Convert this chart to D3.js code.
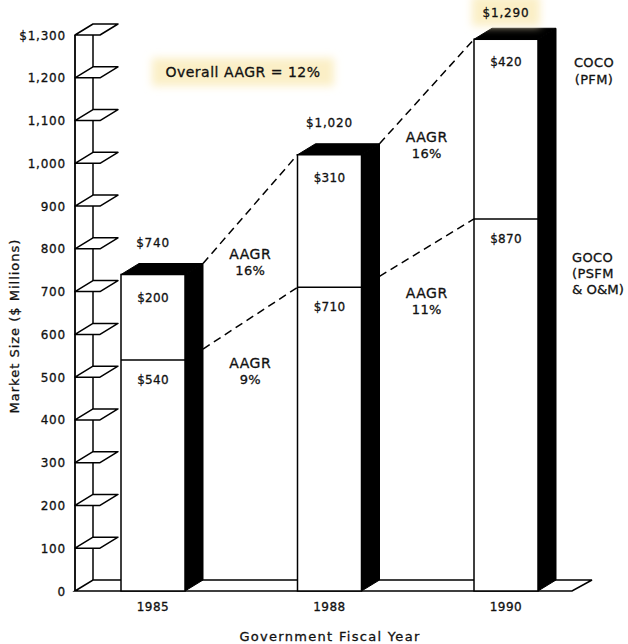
<!DOCTYPE html>
<html>
<head>
<meta charset="utf-8">
<script src="https://cdn.jsdelivr.net/npm/d3@7"></script>
<style>
  html, body { margin: 0; padding: 0; background: #fff; }
  svg { display: block; }
  text { font-family: "DejaVu Sans", sans-serif; fill: #111; stroke: #111; stroke-width: 0.3; }
</style>
</head>
<body>
<svg id="chart" width="628" height="644"></svg>
<script>
// Fiscal years and market segments ($ millions)
const years = ["1985", "1988", "1990"];
const gocoValues = [540, 710, 870];   // GOCO (PSFM & O&M), lower segment
const cocoValues = [200, 310, 420];   // COCO (PFM), upper segment
const totalLabels = ["$740", "$1,020", "$1,290"];
const gocoLabels = ["$540", "$710", "$870"];
const cocoLabels = ["$200", "$310", "$420"];
const cocoGrowth = ["16%", "16%"];    // AAGR between consecutive years
const gocoGrowth = ["9%", "11%"];
const overallGrowth = "Overall AAGR = 12%";
const tickValues = [0, 100, 200, 300, 400, 500, 600, 700, 800, 900, 1000, 1100, 1200, 1300];
const tickLabels = ["0", "100", "200", "300", "400", "500", "600", "700", "800", "900", "1,000", "1,100", "1,200", "$1,300"];

const svg = d3.select("#chart");

// 3-D depth offset used for bars, shelves and floor
const DX = 18, DY = -11;
const axisX = 75;
const barW = 64;

const y = d3.scaleLinear().domain([0, 1300]).range([591, 35]);
const x = d3.scalePoint().domain(years).range([153, 506]);

const defs = svg.append("defs");
defs.append("filter").attr("id", "glow")
  .attr("x", "-30%").attr("y", "-60%").attr("width", "160%").attr("height", "220%")
  .append("feGaussianBlur").attr("stdDeviation", 4);

const line = d3.line();

// floor
const y0 = y(0);
svg.append("path")
  .attr("d", line([[axisX, y0], [axisX + DX, y0 + DY], [592, y0 + DY], [572, y0]]) + "Z")
  .attr("fill", "#fff").attr("stroke", "#000").attr("stroke-width", 1.5);

// back post of the axis
svg.append("line")
  .attr("x1", axisX + DX).attr("x2", axisX + DX)
  .attr("y1", y(1300) + DY).attr("y2", y0 + DY)
  .attr("stroke", "#000").attr("stroke-width", 1.5);

// shelves at each tick
const shelfW = 25;
svg.append("g").selectAll("path")
  .data(tickValues.filter(v => v > 0))
  .join("path")
  .attr("d", v => line([[axisX, y(v)], [axisX + shelfW, y(v)], [axisX + shelfW + DX, y(v) + DY], [axisX + DX, y(v) + DY]]) + "Z")
  .attr("fill", "#fff").attr("stroke", "#000").attr("stroke-width", 1.5)
  .attr("stroke-linejoin", "round");

// front axis line
svg.append("line")
  .attr("x1", axisX).attr("x2", axisX)
  .attr("y1", y(1300)).attr("y2", y0)
  .attr("stroke", "#000").attr("stroke-width", 1.8);

// tick labels
svg.append("g").selectAll("text")
  .data(tickValues)
  .join("text")
  .attr("x", 66).attr("y", v => y(v) + 4.5)
  .attr("text-anchor", "end")
  .attr("font-size", 12).attr("letter-spacing", 0.8)
  .text((v, i) => tickLabels[i]);

// bars
const bars = years.map((yr, i) => ({
  year: yr,
  x0: x(yr) - barW / 2,
  goco: gocoValues[i],
  total: gocoValues[i] + cocoValues[i]
}));

const gBars = svg.append("g");
bars.forEach(b => {
  const xl = b.x0, xr = b.x0 + barW;
  const yt = y(b.total), ys = y(b.goco);
  // side face
  gBars.append("path")
    .attr("d", line([[xr, yt], [xr + DX, yt + DY], [xr + DX, y0 + DY], [xr, y0]]) + "Z")
    .attr("fill", "#000").attr("stroke", "#000").attr("stroke-width", 1);
  // top face
  gBars.append("path")
    .attr("d", line([[xl, yt], [xl + DX, yt + DY], [xr + DX, yt + DY], [xr, yt]]) + "Z")
    .attr("fill", "#000").attr("stroke", "#000").attr("stroke-width", 1);
  // front face
  gBars.append("rect")
    .attr("x", xl).attr("y", yt).attr("width", barW).attr("height", y0 - yt)
    .attr("fill", "#fff").attr("stroke", "#000").attr("stroke-width", 1.5);
  // segment boundary
  gBars.append("line")
    .attr("x1", xl).attr("x2", xr).attr("y1", ys).attr("y2", ys)
    .attr("stroke", "#000").attr("stroke-width", 1.5);
});

// dashed growth lines and AAGR labels
const gLines = svg.append("g");
for (let i = 0; i < bars.length - 1; i++) {
  const a = bars[i], b = bars[i + 1];
  const pairs = [
    { p0: [a.x0 + barW + DX, y(a.total) + DY], p1: [b.x0, y(b.total)], label: cocoGrowth[i] },
    { p0: [a.x0 + barW + DX, y(a.goco) + DY], p1: [b.x0, y(b.goco)], label: gocoGrowth[i] }
  ];
  pairs.forEach(p => {
    gLines.append("path")
      .attr("d", line([p.p0, p.p1]))
      .attr("fill", "none").attr("stroke", "#000").attr("stroke-width", 1.5)
      .attr("stroke-dasharray", "8,5");
    const mx = (p.p0[0] + p.p1[0]) / 2;
    const my = (p.p0[1] + p.p1[1]) / 2;
    gLines.append("text")
      .attr("x", mx).attr("y", my + 50)
      .attr("text-anchor", "middle").attr("font-size", 14).attr("letter-spacing", 0.5)
      .text("AAGR");
    gLines.append("text")
      .attr("x", mx).attr("y", my + 66)
      .attr("text-anchor", "middle").attr("font-size", 13).attr("letter-spacing", 0.3)
      .text(p.label);
  });
}

// value labels
const gLabels = svg.append("g");
bars.forEach((b, i) => {
  const cx = x(b.year);
  if (i === bars.length - 1) {
    gLabels.append("rect")
      .attr("x", cx - 34).attr("y", -4).attr("width", 68).attr("height", 30)
      .attr("fill", "#fbefc6").attr("filter", "url(#glow)");
  }
  gLabels.append("text")
    .attr("x", cx).attr("y", Math.max(17, y(b.total) - 28))
    .attr("text-anchor", "middle").attr("font-size", 12).attr("letter-spacing", 0.8)
    .text(totalLabels[i]);
  gLabels.append("text")
    .attr("x", cx).attr("y", y(b.total) + 27)
    .attr("text-anchor", "middle").attr("font-size", 12).attr("letter-spacing", 0.3)
    .text(cocoLabels[i]);
  gLabels.append("text")
    .attr("x", cx).attr("y", y(b.goco) + 24)
    .attr("text-anchor", "middle").attr("font-size", 12).attr("letter-spacing", 0.3)
    .text(gocoLabels[i]);
});

// overall growth note
svg.append("rect")
  .attr("x", 152).attr("y", 58).attr("width", 182).attr("height", 28)
  .attr("fill", "#fbefc6").attr("filter", "url(#glow)");
svg.append("text")
  .attr("x", 243).attr("y", 77)
  .attr("text-anchor", "middle").attr("font-size", 14).attr("letter-spacing", 0.5)
  .text(overallGrowth);

// segment legend on the right
const legend = svg.append("g").attr("font-size", 13).attr("letter-spacing", 0.4);
[["COCO", 67], ["(PFM)", 84]].forEach(([t, ty]) =>
  legend.append("text").attr("x", 594).attr("y", ty).attr("text-anchor", "middle").text(t));
[["GOCO", 262], ["(PSFM", 278]].forEach(([t, ty]) =>
  legend.append("text").attr("x", 572).attr("y", ty).text(t));
legend.append("text").attr("x", 572).attr("y", 294)
  .attr("letter-spacing", 0).attr("textLength", 52).attr("lengthAdjust", "spacingAndGlyphs")
  .text("& O&M)");

// category labels
svg.append("g").selectAll("text")
  .data(years)
  .join("text")
  .attr("x", d => x(d)).attr("y", 611)
  .attr("text-anchor", "middle").attr("font-size", 12).attr("letter-spacing", 0.5)
  .text(d => d);

// axis titles
svg.append("text")
  .attr("x", 330).attr("y", 641)
  .attr("text-anchor", "middle").attr("font-size", 13).attr("letter-spacing", 1.3)
  .text("Government Fiscal Year");
svg.append("text")
  .attr("transform", "translate(19,326) rotate(-90)")
  .attr("text-anchor", "middle").attr("font-size", 13).attr("letter-spacing", 1)
  .text("Market Size ($ Millions)");
</script>
</body>
</html>
